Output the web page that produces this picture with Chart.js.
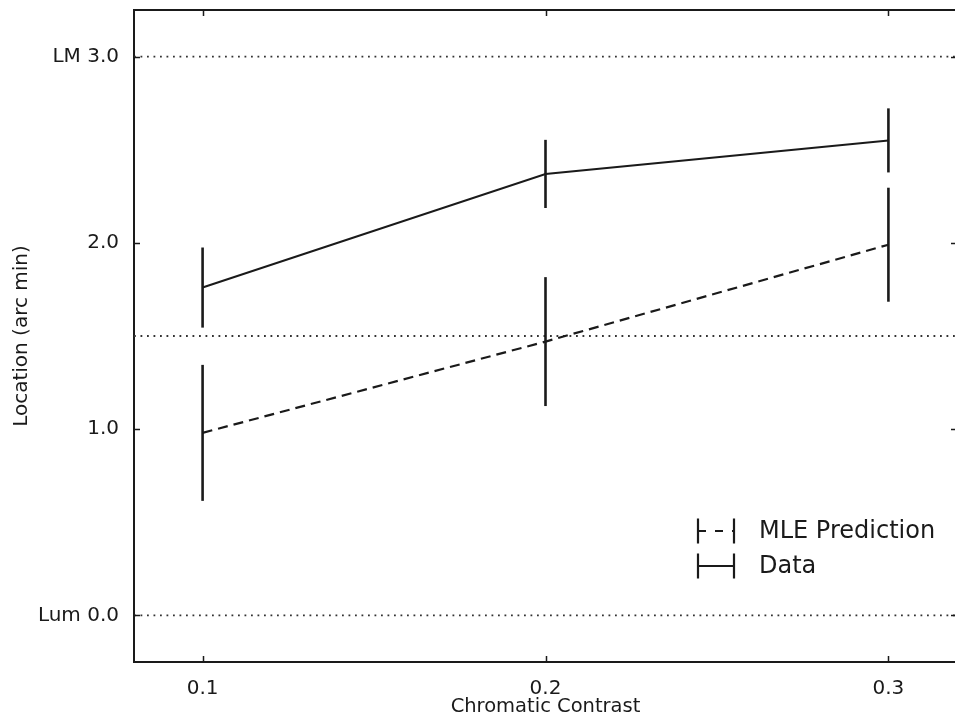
<!DOCTYPE html>
<html><head><meta charset="utf-8">
<script src="https://cdn.jsdelivr.net/npm/chart.js@4.4.1/dist/chart.umd.min.js"></script>
<style>html,body{margin:0;padding:0;background:#fff;overflow:hidden;width:955px;height:719px}#wrap{position:absolute;left:0;top:0;width:957px;height:719px}</style>
</head><body><div id="wrap"><canvas id="c" width="957" height="719"></canvas></div>
<script>
// ---- data ----
const contrast = [0.1, 0.2, 0.3];
const dataMean = [1.76, 2.37, 2.55];
const dataErr = [0.215, 0.183, 0.172];
const mleMean = [0.98, 1.47, 1.99];
const mleErr = [0.365, 0.346, 0.306];
const refLevels = [0.0, 1.5, 3.0];
const xTickValues = [0.1, 0.2, 0.3];
const xTickLabels = ['0.1', '0.2', '0.3'];
const yTickValues = [0, 1, 2, 3];
const yTickLabels = ['Lum 0.0', '1.0', '2.0', 'LM 3.0'];
const xRange = [0.08, 0.32];
const yRange = [-0.25, 3.25];
const seriesNames = ['MLE Prediction', 'Data'];
const xTitle = 'Chromatic Contrast';
const yTitle = 'Location (arc min)';

// ---- styles ----
const FONT = "'DejaVu Sans', sans-serif";
const INK = '#1a1a1a';

const refDatasets = refLevels.map(l => ({
  label: '_ref',
  data: [{x: xRange[0], y: l}, {x: xRange[1], y: l}],
  borderColor: '#333',
  borderWidth: 1.8,
  borderDash: [1.8, 4.7],
  pointRadius: 0,
  order: 10
}));

const mleSet = {
  label: seriesNames[0],
  data: contrast.map((x, i) => ({x, y: mleMean[i]})),
  errs: mleErr,
  dashed: true,
  borderColor: INK,
  borderWidth: 2.2,
  borderDash: [10, 6],
  pointRadius: 0,
  order: 1
};
const dataSet = {
  label: seriesNames[1],
  data: contrast.map((x, i) => ({x, y: dataMean[i]})),
  errs: dataErr,
  dashed: false,
  borderColor: INK,
  borderWidth: 2,
  pointRadius: 0,
  order: 0
};

const framePlugin = {
  id: 'frame',
  afterDatasetsDraw(chart) {
    const ctx = chart.ctx;
    const xs = chart.scales.x, ys = chart.scales.y;
    const a = chart.chartArea;
    ctx.save();
    // error bars
    chart.data.datasets.forEach(ds => {
      if (!ds.errs) return;
      ctx.strokeStyle = INK;
      ctx.lineWidth = 2.6;
      ctx.setLineDash([]);
      ds.data.forEach((p, i) => {
        const px = xs.getPixelForValue(p.x);
        ctx.beginPath();
        ctx.moveTo(px, ys.getPixelForValue(p.y + ds.errs[i]));
        ctx.lineTo(px, ys.getPixelForValue(p.y - ds.errs[i]));
        ctx.stroke();
      });
    });
    // top/right border
    ctx.strokeStyle = INK;
    ctx.lineWidth = 2;
    ctx.beginPath();
    ctx.moveTo(a.left, a.top);
    ctx.lineTo(a.right, a.top);
    ctx.moveTo(a.right, a.top);
    ctx.lineTo(a.right, a.bottom);
    ctx.stroke();
    // inward ticks
    ctx.lineWidth = 1.5;
    const TL = 6;
    ctx.beginPath();
    xTickValues.forEach(v => {
      const px = Math.round(xs.getPixelForValue(v)) + 0.5;
      ctx.moveTo(px, a.bottom); ctx.lineTo(px, a.bottom - TL);
      ctx.moveTo(px, a.top); ctx.lineTo(px, a.top + TL);
    });
    yTickValues.forEach(v => {
      const py = Math.round(ys.getPixelForValue(v)) + 0.5;
      ctx.moveTo(a.left, py); ctx.lineTo(a.left + TL, py);
      ctx.moveTo(a.right, py); ctx.lineTo(a.right - TL, py);
    });
    ctx.stroke();
    // legend
    const lx0 = 698, lx1 = 734, textX = 759;
    const rows = [{ds: mleSet, cy: 531}, {ds: dataSet, cy: 566}];
    rows.forEach(r => {
      ctx.strokeStyle = INK;
      ctx.lineWidth = 2.2;
      ctx.setLineDash([]);
      ctx.beginPath();
      ctx.moveTo(lx0, r.cy - 12.5); ctx.lineTo(lx0, r.cy + 12.5);
      ctx.moveTo(lx1, r.cy - 12.5); ctx.lineTo(lx1, r.cy + 12.5);
      ctx.stroke();
      ctx.lineWidth = 2;
      if (r.ds.dashed) ctx.setLineDash([8, 9]);
      ctx.beginPath();
      ctx.moveTo(lx0, r.cy); ctx.lineTo(lx1, r.cy);
      ctx.stroke();
      ctx.setLineDash([]);
      ctx.fillStyle = INK;
      ctx.font = '24px ' + FONT;
      ctx.textBaseline = 'middle';
      ctx.textAlign = 'left';
      ctx.fillText(r.ds.label, textX, r.cy + 1);
    });
    ctx.restore();
  }
};

new Chart(document.getElementById('c'), {
  type: 'line',
  data: {datasets: [...refDatasets, mleSet, dataSet]},
  plugins: [framePlugin],
  options: {
    responsive: false,
    animation: false,
    devicePixelRatio: 1,
    layout: {padding: {top: 10, right: 0, bottom: 0, left: 0}},
    plugins: {legend: {display: false}, tooltip: {enabled: false}},
    elements: {line: {tension: 0}},
    scales: {
      x: {
        type: 'linear',
        min: xRange[0], max: xRange[1],
        afterBuildTicks: s => { s.ticks = xTickValues.map(v => ({value: v})); },
        afterFit: s => { s.height = 57; s.paddingLeft = 0; s.paddingRight = 0; },
        grid: {display: false, drawTicks: false},
        border: {display: true, color: INK, width: 2},
        ticks: {
          autoSkip: false, maxRotation: 0, padding: 15,
          color: INK, font: {family: FONT, size: 20},
          callback: v => xTickLabels[xTickValues.indexOf(v)]
        },
        title: {display: true, text: xTitle, color: INK, font: {family: FONT, size: 19.5}, padding: {top: 0, bottom: 0}}
      },
      y: {
        type: 'linear',
        min: yRange[0], max: yRange[1],
        afterBuildTicks: s => { s.ticks = yTickValues.map(v => ({value: v})); },
        afterFit: s => { s.width = 134; s.paddingTop = 0; s.paddingBottom = 0; },
        grid: {display: false, drawTicks: false},
        border: {display: true, color: INK, width: 2},
        ticks: {
          autoSkip: false, padding: 15,
          color: INK, font: {family: FONT, size: 20},
          callback: v => yTickLabels[yTickValues.indexOf(v)]
        },
        title: {display: true, text: yTitle, color: INK, font: {family: FONT, size: 20}, padding: {top: 10, bottom: 0}}
      }
    }
  }
});
</script></body></html>
